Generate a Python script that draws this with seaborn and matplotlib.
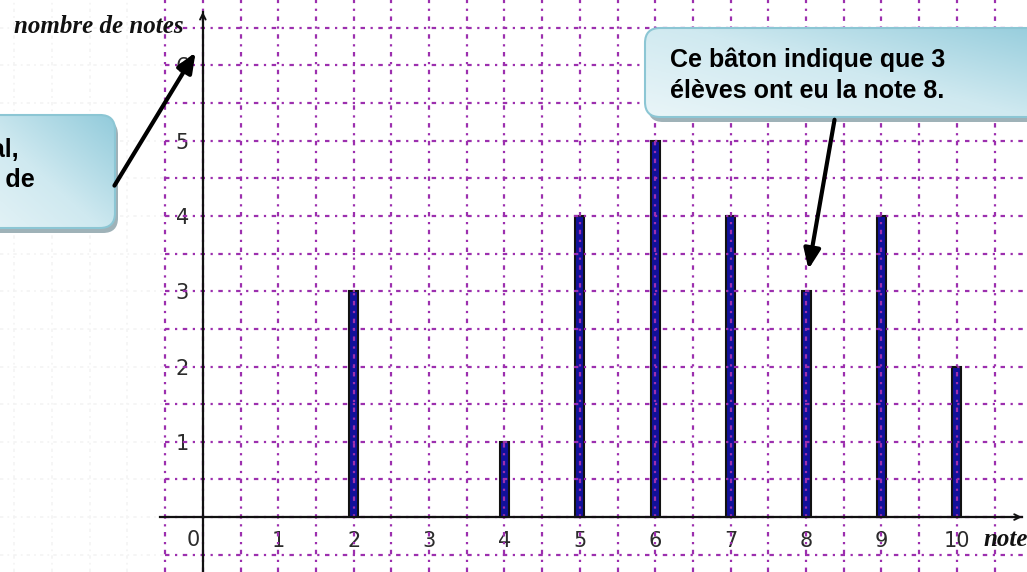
import numpy as np
import pandas as pd
import matplotlib.pyplot as plt
import seaborn as sns
from matplotlib.patches import FancyBboxPatch
from matplotlib.colors import LinearSegmentedColormap

# diagramme en bâtons : nombre d'élèves par note
notes = [2, 4, 5, 6, 7, 8, 9, 10]
nombre = [3, 1, 4, 5, 4, 3, 4, 2]
x_ticks = list(range(1, 11))
y_ticks = list(range(1, 7))
x_label = "note"
y_label = "nombre de notes"
bulle_droite = ["Ce bâton indique que 3", "élèves ont eu la note 8."]
bulle_gauche = ["Sur l'axe vertical,", "on lit le nombre de"]

sns.set_style("white")
plt.rcParams['font.family'] = ['DejaVu Sans']

W, H = 1027, 572
fig = plt.figure(figsize=(W / 100, H / 100), dpi=100)
ax = fig.add_axes([0, 0, 1, 1])

df = pd.DataFrame({"note": notes, "nombre": nombre})
sns.barplot(data=df, x="note", y="nombre", native_scale=True, orient="x",
            width=0.12, color="#12109a", saturation=1, edgecolor="#111111",
            linewidth=1.5, ax=ax, zorder=1)

xmin, xmax = -2.69, 10.93
ymin, ymax = -0.73, 6.87
ax.set_xlim(xmin, xmax)
ax.set_ylim(ymin, ymax)
ax.set_xlabel("")
ax.set_ylabel("")

# quadrillage pointillé
grid_c = "#9c2fae"
dash = (0, (2, 2.5, 1, 2.5))
ax.vlines(np.arange(-0.5, 11, 0.5), ymin, ymax, colors=grid_c, linestyles=[dash], lw=1.6, zorder=3)
ax.hlines(np.arange(-0.5, 7, 0.5), -0.5, xmax, colors=grid_c, linestyles=[dash], lw=1.6, zorder=3)
ax.vlines(np.arange(-2.5, -0.5, 0.5), ymin, ymax, colors="#f3f3f3", linestyles=[dash], lw=1.2, zorder=0)
ax.hlines(np.arange(-0.5, 7, 0.5), xmin, -0.5, colors="#f3f3f3", linestyles=[dash], lw=1.2, zorder=0)

# axes passant par l'origine
for s in ["top", "right"]:
    ax.spines[s].set_visible(False)
ax.spines["left"].set_position(("data", 0))
ax.spines["bottom"].set_position(("data", 0))
ax.spines["bottom"].set_bounds(-0.57, 10.86)
ax.spines["left"].set_bounds(ymin, 6.71)
for s in ["left", "bottom"]:
    ax.spines[s].set_color("#111111")
    ax.spines[s].set_linewidth(1.6)
    ax.spines[s].set_zorder(4)
ax.annotate("", xy=(10.9, 0), xytext=(10.7, 0),
            arrowprops=dict(arrowstyle="->", color="#111111", lw=1.4), zorder=4)
ax.annotate("", xy=(0, 6.75), xytext=(0, 6.55),
            arrowprops=dict(arrowstyle="->", color="#111111", lw=1.4), zorder=4)

ax.set_xticks(x_ticks)
ax.set_yticks(y_ticks)
ax.tick_params(direction="inout", length=12, width=1.5, color="#111111",
               labelsize=15, labelcolor="#2b2b2b", pad=4)
ax.text(-0.13, -0.3, "0", ha="center", va="center", fontsize=15, color="#2b2b2b")

lab_font = dict(family=["Liberation Serif", "DejaVu Serif"], style="italic",
                weight="bold", fontsize=18, color="#111111")
ax.text(-2.5, 6.52, y_label, ha="left", va="center", **lab_font)
ax.text(10.35, -0.3, x_label, ha="left", va="center", **lab_font)

# bulles explicatives (coordonnées en pixels)
ov = fig.add_axes([0, 0, 1, 1], zorder=5)
ov.axis("off")
cmap = LinearSegmentedColormap.from_list("bulle", ["#e9f5f8", "#cfe9f0", "#92cbdb"])


def bulle(x0, y0, x1, y1):
    ombre = FancyBboxPatch((x0 + 3, y0 + 5), x1 - x0, y1 - y0,
                           boxstyle="round,pad=0,rounding_size=15",
                           fc="#9fb2b8", ec="none", zorder=1)
    ov.add_patch(ombre)
    cadre = FancyBboxPatch((x0, y0), x1 - x0, y1 - y0,
                           boxstyle="round,pad=0,rounding_size=15",
                           fc="none", ec="#8cc6d4", lw=1.5, zorder=3)
    ov.add_patch(cadre)
    jj, ii = np.meshgrid(np.linspace(0, 1, 200), np.linspace(0, 1, 100))
    grad = 0.55 * jj + 0.45 * (1 - ii)
    im = ov.imshow(grad, extent=(x0, x1, y1, y0), cmap=cmap, aspect="auto",
                   zorder=2, vmin=0, vmax=1)
    im.set_clip_path(cadre)


bulle(645, 28, 1070, 117)
bulle(-40, 115, 115, 228)

txt_font = dict(family=["Liberation Sans", "DejaVu Sans"], weight="bold",
                fontsize=18, color="#000000")
ov.text(670, 67, bulle_droite[0], ha="left", va="baseline", zorder=6, **txt_font)
ov.text(670, 98, bulle_droite[1], ha="left", va="baseline", zorder=6, **txt_font)
ov.text(19, 157, bulle_gauche[0], ha="right", va="baseline", zorder=6, **txt_font)
ov.text(35, 187, bulle_gauche[1], ha="right", va="baseline", zorder=6, **txt_font)

fl = dict(arrowstyle="-|>,head_length=1.2,head_width=0.5", color="#000000", lw=3)
ov.annotate("", xy=(197, 50), xytext=(113, 188), arrowprops=fl, zorder=6)
ov.annotate("", xy=(808, 272), xytext=(835, 117), arrowprops=fl, zorder=6)

ov.set_xlim(0, W)
ov.set_ylim(H, 0)

fig.savefig("out.png", dpi=100)
